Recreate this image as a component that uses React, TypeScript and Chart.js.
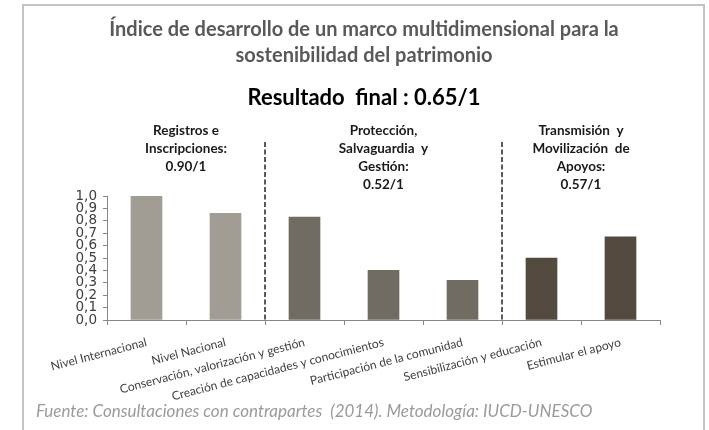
import React, { useEffect, useRef } from 'react';
import { Chart, registerables } from 'chart.js';

Chart.register(...registerables);

const categories = [
  'Nivel Internacional',
  'Nivel Nacional',
  'Conservación, valorización y gestión',
  'Creación de capacidades y conocimientos',
  'Participación de la comunidad',
  'Sensibilización y educación',
  'Estimular el apoyo',
];
const values = [1.0, 0.86, 0.83, 0.4, 0.32, 0.5, 0.67];
const barColors = ['#A19D95', '#A19D95', '#706C61', '#706C61', '#706C61', '#524A3E', '#524A3E'];
const groupRanges = [
  [0, 1],
  [2, 4],
  [5, 6],
];
const groupLabels = [
  ['Registros e', 'Inscripciones:', '0.90/1'],
  ['Protección,', 'Salvaguardia  y', 'Gestión:', '0.52/1'],
  ['Transmisión  y', 'Movilización  de', 'Apoyos:', '0.57/1'],
];
const titleLines = [
  'Índice de desarrollo de un marco multidimensional para la',
  'sostenibilidad del patrimonio',
];
const subtitle = 'Resultado  final : 0.65/1';
const source = 'Fuente: Consultaciones con contrapartes  (2014). Metodología: IUCD-UNESCO';
const yMin = 0;
const yMax = 1;
const yStep = 0.1;

const FONT = 'Lato, "Open Sans", sans-serif';

const decorPlugin = {
  id: 'decor',
  afterDraw(chart: any) {
    const ctx = chart.ctx as CanvasRenderingContext2D;
    const x = chart.scales.x;
    const area = chart.chartArea;
    ctx.save();
    // frame
    ctx.strokeStyle = '#C3C3C3';
    ctx.lineWidth = 2;
    ctx.strokeRect(23, 5, 681, 440);

    const cx = 364;
    // titles
    ctx.fillStyle = '#595959';
    ctx.textAlign = 'center';
    ctx.textBaseline = 'alphabetic';
    ctx.font = `bold 20px ${FONT}`;
    titleLines.forEach((t, i) => ctx.fillText(t, cx, 36 + i * 26));
    ctx.fillStyle = '#000000';
    ctx.font = `bold 22px ${FONT}`;
    ctx.fillText(subtitle, cx, 105);

    // group labels
    ctx.fillStyle = '#1a1a1a';
    ctx.font = `bold 13.5px ${FONT}`;
    groupRanges.forEach((r, gi) => {
      const gx = (x.getPixelForValue(r[0]) + x.getPixelForValue(r[1])) / 2;
      groupLabels[gi].forEach((line, li) => ctx.fillText(line, gx, 135 + li * 18));
    });

    // dashed separators
    ctx.strokeStyle = '#595959';
    ctx.lineWidth = 2;
    ctx.setLineDash([5, 2.5]);
    for (let gi = 0; gi < groupRanges.length - 1; gi++) {
      const sx = Math.round((x.getPixelForValue(groupRanges[gi][1]) + x.getPixelForValue(groupRanges[gi + 1][0])) / 2);
      ctx.beginPath();
      ctx.moveTo(sx, 142);
      ctx.lineTo(sx, area.bottom);
      ctx.stroke();
    }
    ctx.setLineDash([]);

    // source
    ctx.fillStyle = '#9A9A9A';
    ctx.textAlign = 'left';
    ctx.font = `italic 17px ${FONT}`;
    ctx.fillText(source, 36, 417);
    ctx.restore();
  },
};

export default function App() {
  const ref = useRef<HTMLCanvasElement>(null);
  useEffect(() => {
    document.body.style.margin = '0';
    const chart = new Chart(ref.current!, {
      type: 'bar',
      data: {
        labels: categories,
        datasets: [
          {
            data: values,
            backgroundColor: barColors,
            borderWidth: 0,
            barThickness: 31,
          },
        ],
      },
      options: {
        responsive: false,
        animation: false,
        devicePixelRatio: 1,
        layout: { padding: { top: 196, right: 49, bottom: 0, left: 0 } },
        plugins: { legend: { display: false }, tooltip: { enabled: false }, title: { display: false } },
        scales: {
          x: {
            grid: { drawOnChartArea: false, drawTicks: true, tickLength: 5, color: '#868686' },
            border: { color: '#868686', width: 1 },
            ticks: {
              autoSkip: false,
              maxRotation: 14.5,
              minRotation: 14.5,
              color: '#404040',
              font: { family: FONT, size: 12 },
              padding: 10,
            },
            afterFit: (s: any) => {
              s.height = 110;
            },
          },
          y: {
            min: yMin,
            max: yMax,
            grid: { drawOnChartArea: false, drawTicks: true, tickLength: 4, color: '#868686' },
            border: { color: '#868686', width: 1 },
            ticks: {
              stepSize: yStep,
              autoSkip: false,
              color: '#404040',
              font: { family: '"DejaVu Sans", sans-serif', size: 13.5 },
              padding: 6,
              callback: (v: any) => Number(v).toFixed(1).replace('.', ','),
            },
            afterFit: (s: any) => {
              s.width = 107;
            },
          },
        },
      },
      plugins: [decorPlugin],
    });
    return () => chart.destroy();
  }, []);
  return (
    <div style={{ width: 709, height: 430, background: '#ffffff' }}>
      <canvas ref={ref} width={709} height={430} style={{ display: 'block' }} />
    </div>
  );
}
